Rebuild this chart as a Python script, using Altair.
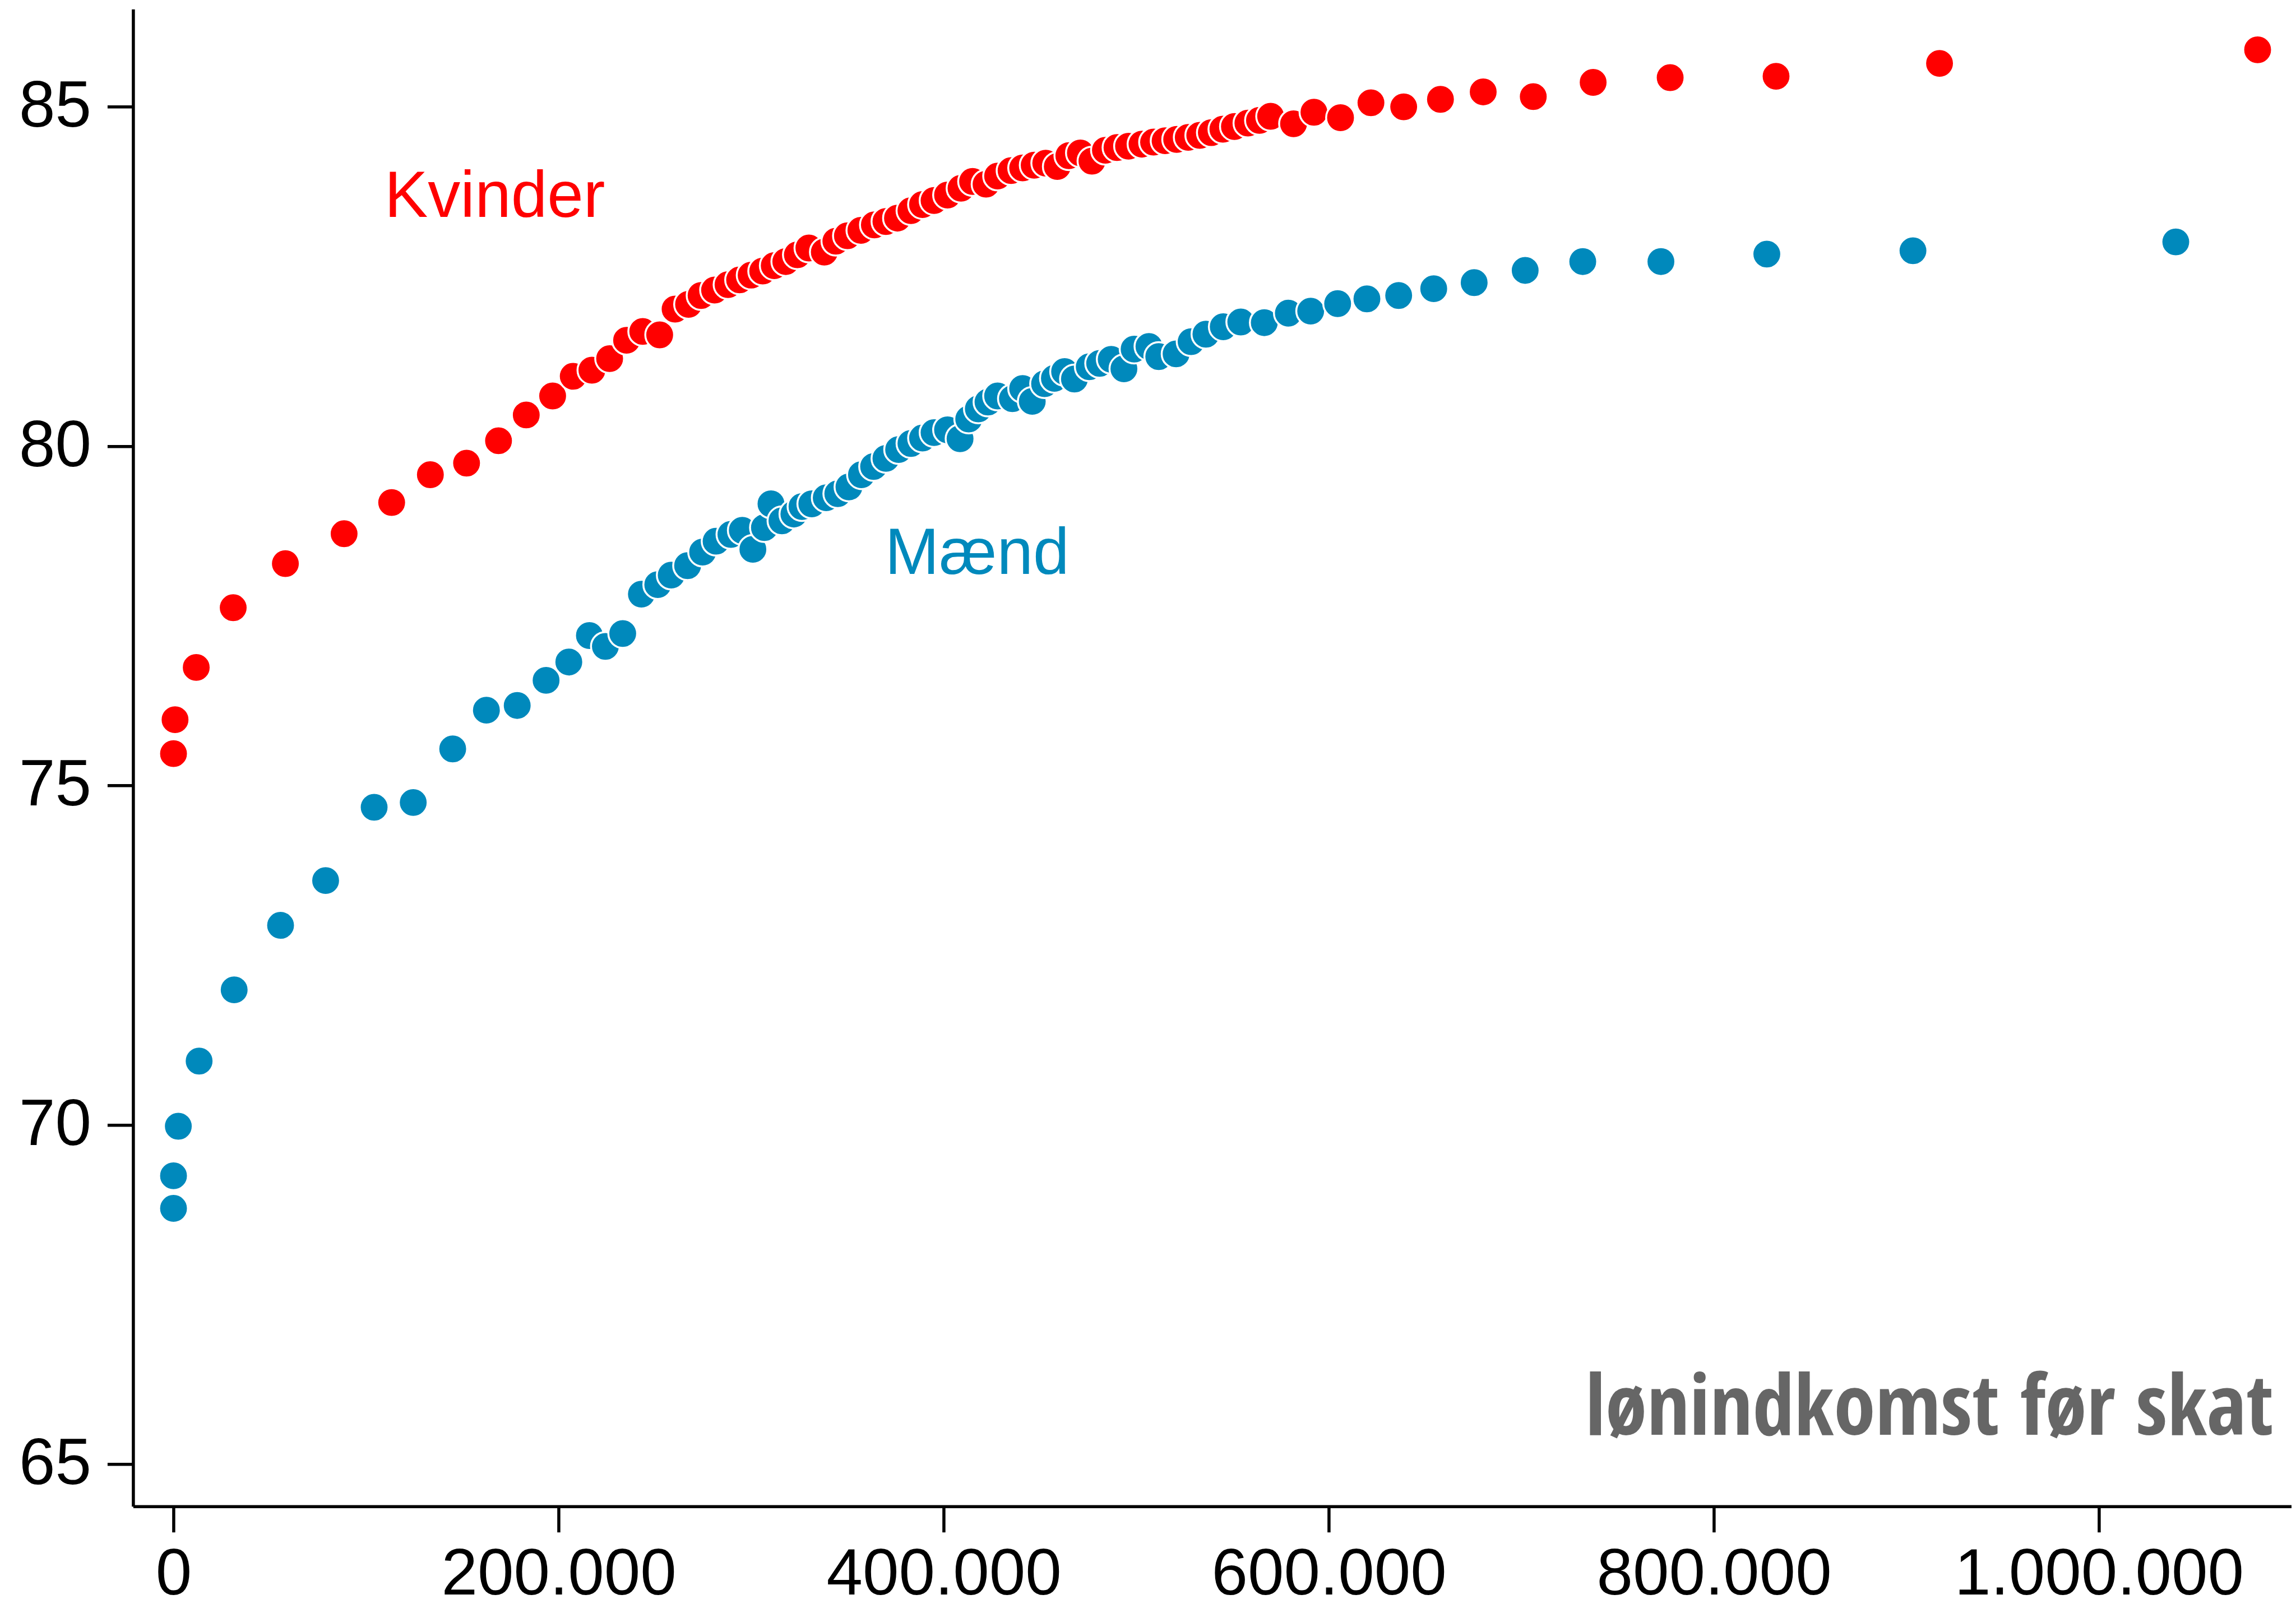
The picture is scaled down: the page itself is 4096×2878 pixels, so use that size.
import altair as alt
import pandas as pd

# ---------------- data ----------------
kvinder_x = [0, 800, 11800, 31000, 58100, 88600, 113300, 133400, 152200, 168800,
             183200, 196900, 207600, 217300, 226500, 235300, 243700, 252500, 260500, 267500,
             274000, 281000, 288000, 294000, 300000, 306000, 312000, 318000, 324000, 330000,
             338000, 344000, 350000, 357000, 364000, 370000, 376000, 383000, 389000, 395000,
             402000, 409000, 415000, 422000, 428000, 435000, 441000, 447000, 453000, 459000,
             465000, 471000, 477000, 484000, 490000, 496000, 503000, 509000, 515000, 521000,
             527000, 533000, 539000, 545000, 551000, 558000, 564000,
             569800, 581700, 592300, 606100, 621900, 638900, 658000, 680200, 706200, 737300,
             777300, 832300, 917200, 1082400]
kvinder_y = [75.47, 75.97, 76.74, 77.62, 78.27, 78.71, 79.17, 79.58, 79.75, 80.08,
             80.46, 80.74, 81.03, 81.12, 81.29, 81.56, 81.69, 81.64, 82.02, 82.09,
             82.22, 82.30, 82.38, 82.45, 82.52, 82.58, 82.66, 82.72, 82.82, 82.92,
             82.86, 83.02, 83.10, 83.18, 83.26, 83.31, 83.36, 83.47, 83.56, 83.62,
             83.70, 83.80, 83.90, 83.86, 83.98, 84.06, 84.10, 84.14, 84.17, 84.12,
             84.28, 84.32, 84.20, 84.36, 84.40, 84.42, 84.45, 84.48, 84.50, 84.52,
             84.55, 84.58, 84.62, 84.67, 84.71, 84.76, 84.80,
             84.86, 84.75, 84.92, 84.84, 85.06, 85.00, 85.11, 85.22, 85.15, 85.36,
             85.43, 85.45, 85.64, 85.84]

maend_x = [0, 0, 2500, 13300, 31500, 55600, 79000, 104200, 124500, 145000,
           162500, 178500, 193500, 205300, 216000, 224300, 233300, 243000, 251500, 258500,
           267000, 274800, 281800, 289500, 295400, 300900, 306900, 310300, 316000, 322200,
           326400, 331500, 339000, 345000, 350800, 357300, 363600, 370000, 376600, 383000,
           389000, 395000, 402000, 408500, 413000, 418000, 423000, 428000, 435700, 441000,
           446000, 452400, 457500, 462800, 467900, 475600, 481000, 487000, 493600, 498900,
           506600, 511700, 520700, 528500, 536200, 545200, 554300, 566500, 579000, 590600,
           604600, 619800, 636300, 654500, 675500, 702000, 731900, 772500, 827500, 903400,
           1039900]
maend_y = [68.77, 69.25, 69.98, 70.94, 71.99, 72.94, 73.60, 74.68, 74.75, 75.54,
           76.11, 76.18, 76.55, 76.82, 77.21, 77.05, 77.24, 77.82, 77.96, 78.10,
           78.24, 78.44, 78.60, 78.70, 78.76, 78.48, 78.80, 79.15, 78.90, 79.00,
           79.11, 79.15, 79.24, 79.30, 79.40, 79.58, 79.70, 79.82, 79.95, 80.04,
           80.12, 80.20, 80.24, 80.11, 80.40, 80.55, 80.65, 80.74, 80.70, 80.85,
           80.66, 80.92, 81.00, 81.10, 80.99, 81.17, 81.22, 81.28, 81.14, 81.43,
           81.47, 81.32, 81.36, 81.54, 81.65, 81.76, 81.83, 81.82, 81.96, 81.99,
           82.10, 82.17, 82.22, 82.32, 82.41, 82.59, 82.72, 82.72, 82.83, 82.88,
           83.01]

series_names = ["Kvinder", "Mænd"]
series_colors = ["#FF0000", "#0089BC"]

x_tick_values = [0, 200000, 400000, 600000, 800000, 1000000]
x_tick_labels = ["0", "200.000", "400.000", "600.000", "800.000", "1.000.000"]
y_tick_values = [65, 70, 75, 80, 85]

label_text = ["Kvinder", "Mænd"]
label_x = [109600, 369500]
label_y = [83.375, 78.12]

note_text = ["lønindkomst før skat"]
note_x = [1090600]
note_y = [65.435]

# ---------------- build ----------------
rows = []
for name, xs, ys in [("Kvinder", kvinder_x, kvinder_y), ("Mænd", maend_x, maend_y)]:
    for i, (xv, yv) in enumerate(zip(xs, ys)):
        rows.append({"group": name, "x": xv, "y": yv, "i": i})
df = pd.DataFrame(rows)

labels_df = pd.DataFrame({"text": label_text, "x": label_x, "y": label_y, "group": series_names})
note_df = pd.DataFrame({"text": note_text, "x": note_x, "y": note_y})

label_expr = ""
for v, l in zip(x_tick_values, x_tick_labels):
    label_expr += f"datum.value == {v} ? '{l}' : "
label_expr += "''"

x_scale = alt.Scale(domain=[-21000, 1100000], nice=False, zero=False)
y_scale = alt.Scale(domain=[64.38, 86.44], nice=False, zero=False)
color_scale = alt.Scale(domain=series_names, range=series_colors)

points = alt.Chart(df).mark_circle(
    size=2640, opacity=1, stroke="white", strokeWidth=3.5
).encode(
    x=alt.X("x:Q", scale=x_scale,
            axis=alt.Axis(values=x_tick_values, labelExpr=label_expr, title=None,
                          labelPadding=19, labelFlush=False, labelOverlap=False)),
    y=alt.Y("y:Q", scale=y_scale,
            axis=alt.Axis(values=y_tick_values, title=None, labelPadding=29, format="d")),
    color=alt.Color("group:N", scale=color_scale, legend=None),
    order=alt.Order("x:Q"),
)

labels = alt.Chart(labels_df).mark_text(
    align="left", baseline="alphabetic", fontSize=116, font="Liberation Sans"
).encode(
    x=alt.X("x:Q", scale=x_scale),
    y=alt.Y("y:Q", scale=y_scale),
    text="text:N",
    color=alt.Color("group:N", scale=color_scale, legend=None),
)

note = alt.Chart(note_df).mark_text(
    align="right", baseline="alphabetic", fontSize=150,
    font="Open Sans Condensed, Noto Sans Condensed, Roboto Condensed, Liberation Sans Narrow, DejaVu Sans Condensed",
    fontWeight="bold", color="#666666"
).encode(
    x=alt.X("x:Q", scale=x_scale),
    y=alt.Y("y:Q", scale=y_scale),
    text="text:N",
)

chart = alt.layer(points, labels, note).properties(
    width=3850.6, height=2671.5,
    autosize=alt.AutoSizeParams(type="none"),
    padding={"left": 229.4, "top": 8.2, "right": 0, "bottom": 182},
    background="white",
).configure_view(
    stroke=None
).configure_axis(
    grid=False,
    domainColor="black", domainWidth=5.5,
    tickColor="black", tickWidth=5.5, tickSize=46,
    labelFont="Liberation Sans", labelFontSize=116, labelColor="black",
    labelLimit=2000,
)

chart.save("out.html", embed_options={"renderer": "svg", "actions": False})
